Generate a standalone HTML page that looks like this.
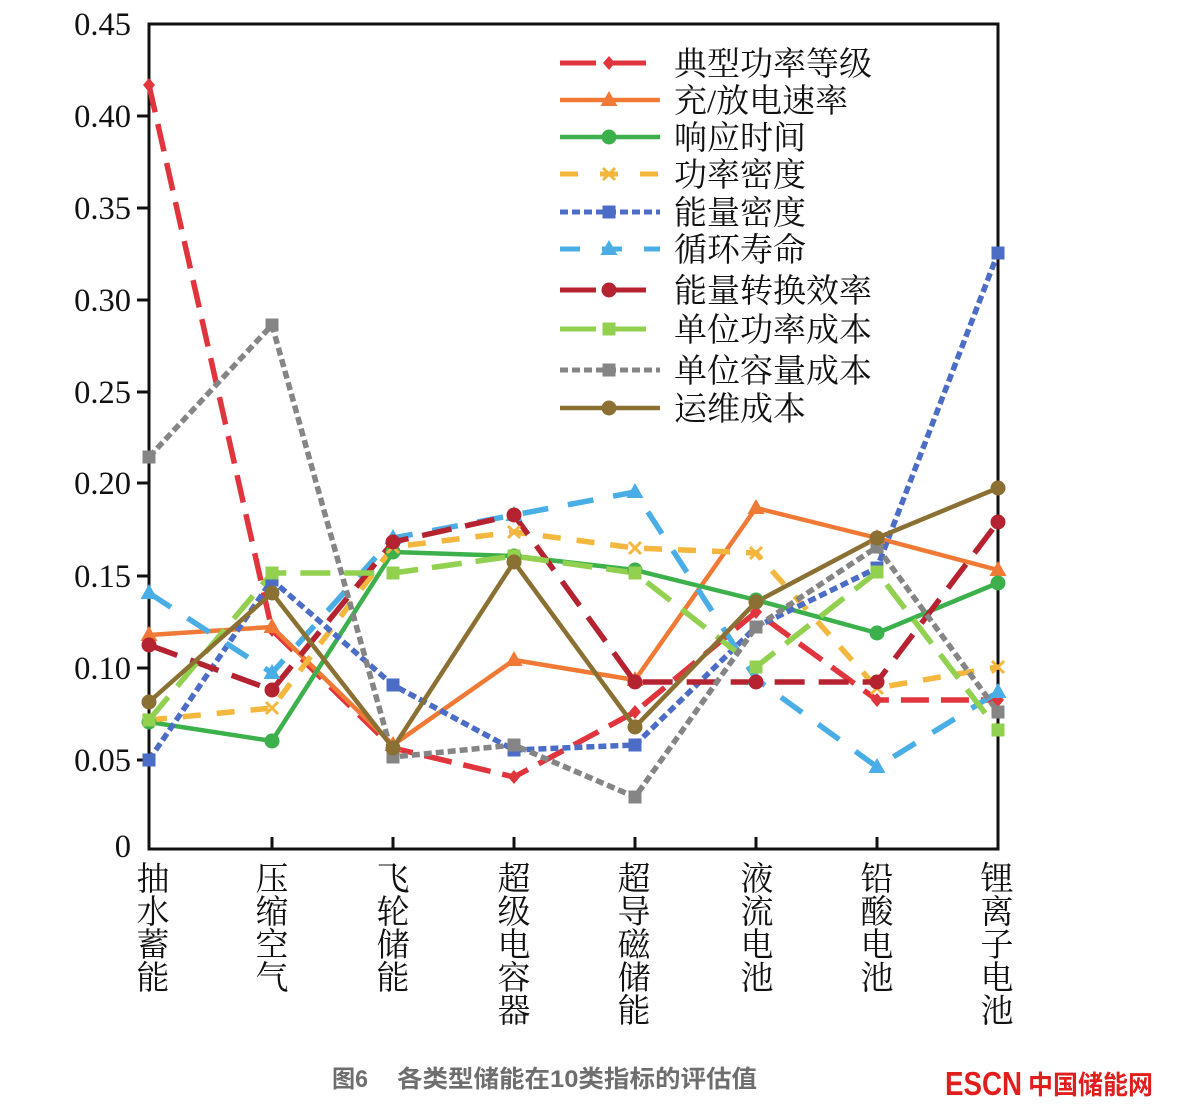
<!DOCTYPE html>
<html><head><meta charset="utf-8"><style>
html,body{margin:0;padding:0;background:#fff;}
svg{display:block;}
.tk{font-family:"Liberation Serif","Noto Serif CJK SC",serif;font-size:32.5px;fill:#111;}
.cj{font-family:"Liberation Serif","Noto Serif CJK SC",serif;font-size:33px;fill:#111;}
</style></head><body>
<svg width="1178" height="1118" viewBox="0 0 1178 1118" xmlns="http://www.w3.org/2000/svg">
<rect width="1178" height="1118" fill="#fff"/>
<defs>
<g id="sq"><rect x="-6.5" y="-6.5" width="13" height="13"/></g>
<g id="ci"><circle r="7.5"/></g>
<g id="tr"><polygon points="0,-9 8.5,6 -8.5,6"/></g>
<g id="di"><polygon points="0,-7 6,0 0,7 -6,0"/></g>
</defs>

<!-- axes -->
<g stroke="#111" stroke-width="3" fill="none">
<rect x="149" y="24" width="849" height="825"/>
<line x1="137" y1="116" x2="149" y2="116"/>
<line x1="137" y1="208" x2="149" y2="208"/>
<line x1="137" y1="300" x2="149" y2="300"/>
<line x1="137" y1="392" x2="149" y2="392"/>
<line x1="137" y1="483" x2="149" y2="483"/>
<line x1="137" y1="576" x2="149" y2="576"/>
<line x1="137" y1="668" x2="149" y2="668"/>
<line x1="137" y1="760" x2="149" y2="760"/>
<line x1="272" y1="849" x2="272" y2="837"/>
<line x1="393" y1="849" x2="393" y2="837"/>
<line x1="514" y1="849" x2="514" y2="837"/>
<line x1="635" y1="849" x2="635" y2="837"/>
<line x1="756" y1="849" x2="756" y2="837"/>
<line x1="877" y1="849" x2="877" y2="837"/>
</g>
<g class="tk" text-anchor="end">
<text x="131" y="35">0.45</text>
<text x="131" y="127">0.40</text>
<text x="131" y="219">0.35</text>
<text x="131" y="311">0.30</text>
<text x="131" y="403">0.25</text>
<text x="131" y="494">0.20</text>
<text x="131" y="587">0.15</text>
<text x="131" y="679">0.10</text>
<text x="131" y="771">0.05</text>
<text x="131" y="857">0</text>
</g>

<!-- x labels -->
<g class="cj" text-anchor="middle">
<text x="153" y="890">抽</text><text x="153" y="923">水</text><text x="153" y="956">蓄</text><text x="153" y="989">能</text>
<text x="272" y="890">压</text><text x="272" y="923">缩</text><text x="272" y="956">空</text><text x="272" y="989">气</text>
<text x="393" y="890">飞</text><text x="393" y="923">轮</text><text x="393" y="956">储</text><text x="393" y="989">能</text>
<text x="514" y="890">超</text><text x="514" y="923">级</text><text x="514" y="956">电</text><text x="514" y="989">容</text><text x="514" y="1022">器</text>
<text x="634" y="890">超</text><text x="634" y="923">导</text><text x="634" y="956">磁</text><text x="634" y="989">储</text><text x="634" y="1022">能</text>
<text x="757" y="890">液</text><text x="757" y="923">流</text><text x="757" y="956">电</text><text x="757" y="989">池</text>
<text x="877" y="890">铅</text><text x="877" y="923">酸</text><text x="877" y="956">电</text><text x="877" y="989">池</text>
<text x="997" y="890">锂</text><text x="997" y="923">离</text><text x="997" y="956">子</text><text x="997" y="989">电</text><text x="997" y="1022">池</text>
</g>

<!-- series -->
<g fill="none" stroke-linejoin="round">
<polyline stroke="#e0353c" stroke-width="5.5" stroke-dasharray="28 12" points="149,85 272,630 393,748 514,777 635,712 756,612 877,700 998,700"/>
<polyline stroke="#f07a35" stroke-width="4.5" points="149,635 272,627 393,745 514,660 635,680 756,508 877,538 998,570"/>
<polyline stroke="#3cb04a" stroke-width="4.5" points="149,722 272,741 393,552 514,556 635,570 756,600 877,633 998,583"/>
<polyline stroke="#f2b73c" stroke-width="5.5" stroke-dasharray="18 16" points="149,720 272,708 393,547 514,532 635,548 756,553 877,688 998,667"/>
<polyline stroke="#4b6dc5" stroke-width="5.5" stroke-dasharray="8 4" points="149,760 272,580 393,685 514,750 635,745 756,627 877,568 998,253"/>
<polyline stroke="#4aaee6" stroke-width="5.5" stroke-dasharray="26 20" points="149,593 272,673 393,538 514,515 635,492 756,679 877,767 998,692"/>
<polyline stroke="#b52331" stroke-width="5.5" stroke-dasharray="30 14" points="149,645 272,690 393,542 514,515 635,682 756,682 877,682 998,522"/>
<polyline stroke="#92d050" stroke-width="5.5" stroke-dasharray="30 14" points="149,720 272,573 393,573 514,556 635,573 756,667 877,572 998,730"/>
<polyline stroke="#858585" stroke-width="5.5" stroke-dasharray="8 4" points="149,457 272,325 393,757 514,745 635,797 756,627 877,547 998,712"/>
<polyline stroke="#8a7032" stroke-width="4.5" points="149,702 272,593 393,748 514,562 635,727 756,602 877,538 998,488"/>
</g>

<!-- markers -->
<g fill="#e0353c"><use href="#di" x="149" y="85"/><use href="#di" x="272" y="630"/><use href="#di" x="393" y="748"/><use href="#di" x="514" y="777"/><use href="#di" x="635" y="712"/><use href="#di" x="756" y="612"/><use href="#di" x="877" y="700"/><use href="#di" x="998" y="700"/></g>
<g fill="#f07a35"><use href="#tr" x="149" y="635"/><use href="#tr" x="272" y="627"/><use href="#tr" x="393" y="745"/><use href="#tr" x="514" y="660"/><use href="#tr" x="635" y="680"/><use href="#tr" x="756" y="508"/><use href="#tr" x="877" y="538"/><use href="#tr" x="998" y="570"/></g>
<g fill="#3cb04a"><use href="#ci" x="149" y="722"/><use href="#ci" x="272" y="741"/><use href="#ci" x="393" y="552"/><use href="#ci" x="514" y="556"/><use href="#ci" x="635" y="570"/><use href="#ci" x="756" y="600"/><use href="#ci" x="877" y="633"/><use href="#ci" x="998" y="583"/></g>
<g stroke="#f2b73c" stroke-width="3">
<path d="M143,714l12,12M155,714l-12,12 M266,702l12,12M278,702l-12,12 M387,541l12,12M399,541l-12,12 M508,526l12,12M520,526l-12,12 M629,542l12,12M641,542l-12,12 M750,547l12,12M762,547l-12,12 M871,682l12,12M883,682l-12,12 M992,661l12,12M1004,661l-12,12"/></g>
<g fill="#4b6dc5"><use href="#sq" x="149" y="760"/><use href="#sq" x="272" y="580"/><use href="#sq" x="393" y="685"/><use href="#sq" x="514" y="750"/><use href="#sq" x="635" y="745"/><use href="#sq" x="756" y="627"/><use href="#sq" x="877" y="568"/><use href="#sq" x="998" y="253"/></g>
<g fill="#4aaee6"><use href="#tr" x="149" y="593"/><use href="#tr" x="272" y="673"/><use href="#tr" x="393" y="538"/><use href="#tr" x="514" y="515"/><use href="#tr" x="635" y="492"/><use href="#tr" x="756" y="679"/><use href="#tr" x="877" y="767"/><use href="#tr" x="998" y="692"/></g>
<g fill="#b52331"><use href="#ci" x="149" y="645"/><use href="#ci" x="272" y="690"/><use href="#ci" x="393" y="542"/><use href="#ci" x="514" y="515"/><use href="#ci" x="635" y="682"/><use href="#ci" x="756" y="682"/><use href="#ci" x="877" y="682"/><use href="#ci" x="998" y="522"/></g>
<g fill="#92d050"><use href="#sq" x="149" y="720"/><use href="#sq" x="272" y="573"/><use href="#sq" x="393" y="573"/><use href="#sq" x="514" y="556"/><use href="#sq" x="635" y="573"/><use href="#sq" x="756" y="667"/><use href="#sq" x="877" y="572"/><use href="#sq" x="998" y="730"/></g>
<g fill="#858585"><use href="#sq" x="149" y="457"/><use href="#sq" x="272" y="325"/><use href="#sq" x="393" y="757"/><use href="#sq" x="514" y="745"/><use href="#sq" x="635" y="797"/><use href="#sq" x="756" y="627"/><use href="#sq" x="877" y="547"/><use href="#sq" x="998" y="712"/></g>
<g fill="#8a7032"><use href="#ci" x="149" y="702"/><use href="#ci" x="272" y="593"/><use href="#ci" x="393" y="748"/><use href="#ci" x="514" y="562"/><use href="#ci" x="635" y="727"/><use href="#ci" x="756" y="602"/><use href="#ci" x="877" y="538"/><use href="#ci" x="998" y="488"/></g>

<!-- legend -->
<g fill="none">
<line x1="560" y1="63" x2="660" y2="63" stroke="#e0353c" stroke-width="5" stroke-dasharray="36 14"/>
<line x1="560" y1="100" x2="660" y2="100" stroke="#f07a35" stroke-width="4.5"/>
<line x1="560" y1="137" x2="660" y2="137" stroke="#3cb04a" stroke-width="4.5"/>
<line x1="560" y1="174" x2="660" y2="174" stroke="#f2b73c" stroke-width="5" stroke-dasharray="18 22"/>
<line x1="560" y1="212" x2="660" y2="212" stroke="#4b6dc5" stroke-width="5" stroke-dasharray="8 4"/>
<line x1="560" y1="249" x2="660" y2="249" stroke="#4aaee6" stroke-width="5" stroke-dasharray="20 22"/>
<line x1="560" y1="290" x2="660" y2="290" stroke="#b52331" stroke-width="5" stroke-dasharray="36 14"/>
<line x1="560" y1="329" x2="660" y2="329" stroke="#92d050" stroke-width="5" stroke-dasharray="36 14"/>
<line x1="560" y1="370" x2="660" y2="370" stroke="#858585" stroke-width="5" stroke-dasharray="8 4"/>
<line x1="560" y1="408" x2="660" y2="408" stroke="#8a7032" stroke-width="4.5"/>
</g>
<use href="#di" x="609" y="63" fill="#e0353c"/>
<use href="#tr" x="609" y="100" fill="#f07a35"/>
<use href="#ci" x="609" y="137" fill="#3cb04a"/>
<path d="M603,168l12,12M615,168l-12,12" stroke="#f2b73c" stroke-width="3"/>
<use href="#sq" x="609" y="212" fill="#4b6dc5"/>
<use href="#tr" x="609" y="249" fill="#4aaee6"/>
<use href="#ci" x="609" y="290" fill="#b52331"/>
<use href="#sq" x="609" y="329" fill="#92d050"/>
<use href="#sq" x="609" y="370" fill="#858585"/>
<use href="#ci" x="609" y="408" fill="#8a7032"/>
<g class="cj">
<text x="674" y="75">典型功率等级</text>
<text x="674" y="112">充/放电速率</text>
<text x="674" y="149">响应时间</text>
<text x="674" y="186">功率密度</text>
<text x="674" y="224">能量密度</text>
<text x="674" y="261">循环寿命</text>
<text x="674" y="302">能量转换效率</text>
<text x="674" y="341">单位功率成本</text>
<text x="674" y="382">单位容量成本</text>
<text x="674" y="420">运维成本</text>
</g>

<!-- caption -->
<g font-family="'Liberation Sans','Noto Sans CJK SC',sans-serif" font-weight="bold" fill="#6e6e6e" font-size="24">
<text x="332" y="1087" textLength="36" lengthAdjust="spacingAndGlyphs">图6</text>
<text x="397" y="1087" textLength="360" lengthAdjust="spacingAndGlyphs">各类型储能在10类指标的评估值</text>
</g>
<text x="945" y="1095" font-family="'Liberation Sans',sans-serif" font-weight="bold" font-size="33" fill="#e01e1e" textLength="77" lengthAdjust="spacingAndGlyphs">ESCN</text>
<text x="1028" y="1094" font-family="'Liberation Sans','Noto Sans CJK SC',sans-serif" font-weight="bold" font-size="26" fill="#e01e1e" textLength="125" lengthAdjust="spacingAndGlyphs">中国储能网</text>
</svg>
</body></html>
